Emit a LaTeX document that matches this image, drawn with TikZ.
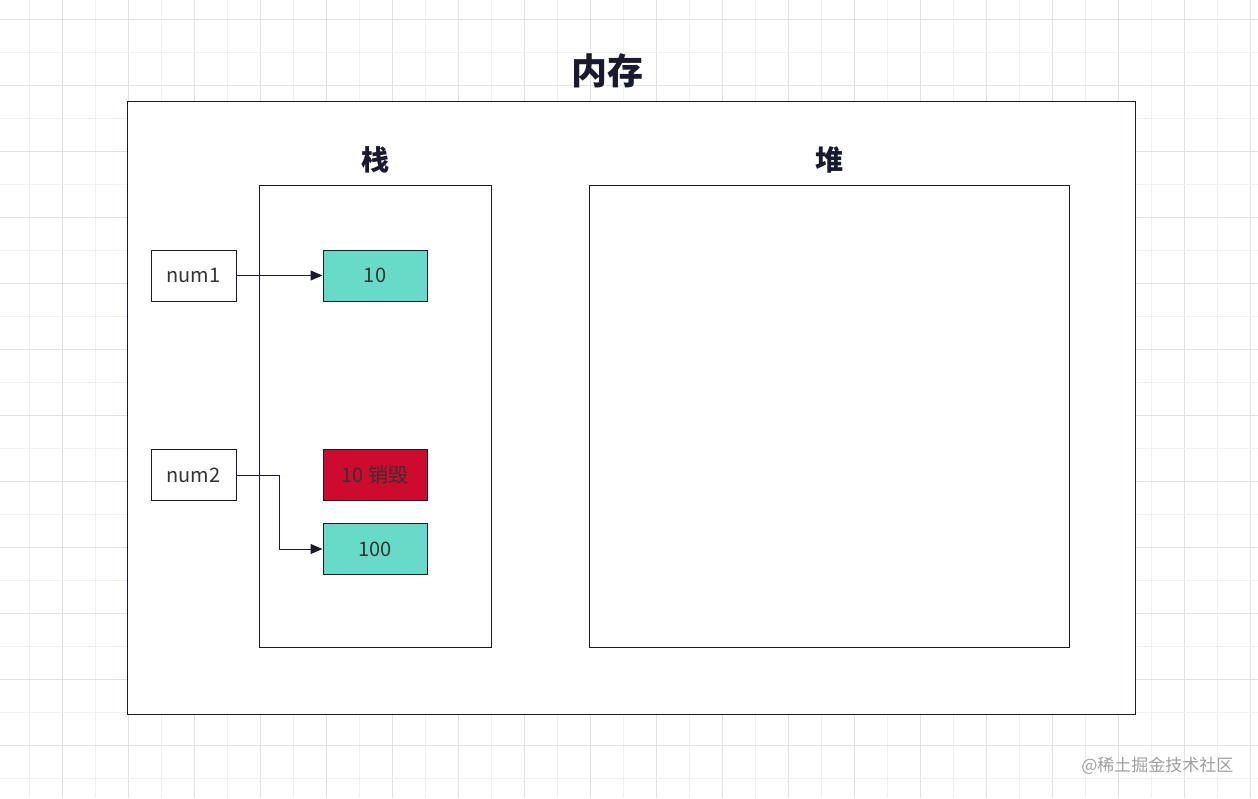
\documentclass[tikz,border=0pt]{standalone}
\usepackage{fontspec}
\setmainfont{Noto Sans CJK SC}
\usetikzlibrary{arrows.meta}

\definecolor{edge}{HTML}{1A1A2E}
\definecolor{cellgreen}{HTML}{67DAC8}
\definecolor{cellred}{HTML}{CE0A2F}
\definecolor{gridmajor}{HTML}{E2E2E5}
\definecolor{gridminor}{HTML}{F0F0F2}
\definecolor{inktext}{HTML}{333333}

\tikzset{
	area/.style={draw=edge, line width=1pt, fill=white},
	var/.style={draw=edge, line width=1pt, fill=white, inner sep=0pt,
		minimum width=85pt, minimum height=51pt, text=inktext,
		font=\fontsize{20}{20}\selectfont},
	cell/.style={var, minimum width=104pt, fill=cellgreen},
	ref/.style={draw=edge, line width=1pt, -{Triangle[length=12pt,width=10pt]}},
	head/.style={font=\fontsize{28}{28}\selectfont\bfseries, text=edge}
}

\begin{document}
\begin{tikzpicture}[x=1pt, y=-1pt]

	\useasboundingbox (0, 0) rectangle (1258, 798);
	\fill[white] (0, 0) rectangle (1258, 798);

	% grid
	\foreach \k in {0, 1,...,37} {
		\pgfmathsetmacro{\gx}{29+33*\k}
		\ifodd\k
			\draw[gridmajor, line width=0.9pt] (\gx, 0) -- (\gx, 798);
		\else
			\draw[gridminor, line width=0.8pt] (\gx, 0) -- (\gx, 798);
		\fi
	}
	\foreach \k in {0, 1,...,23} {
		\pgfmathsetmacro{\gy}{19+33*\k}
		\ifodd\k
			\draw[gridminor, line width=0.8pt] (0, \gy) -- (1258, \gy);
		\else
			\draw[gridmajor, line width=0.9pt] (0, \gy) -- (1258, \gy);
		\fi
	}

	% memory, stack, heap
	\draw[area] (127, 101) rectangle (1135, 714);
	\node[font=\fontsize{36}{36}\selectfont\bfseries, text=edge] (memory) at (607, 71) {内存};
	\draw[area] (259, 185) rectangle (491, 647);
	\node[head] (stack) at (375, 160) {栈};
	\draw[area] (589, 185) rectangle (1069, 647);
	\node[head] (heap) at (829, 160) {堆};

	% variables and values
	\node[var] (num1) at (193.5, 275.5) {num1};
	\node[var] (num2) at (193.5, 475) {num2};
	\node[cell] (v10) at (375, 275.5) {10};
	\node[cell, fill=cellred] (gone) at (375, 475) {10 销毁};
	\node[cell] (v100) at (375, 549) {100};

	\draw[ref] (num1) -- (v10);
	\draw[ref] (num2.east) -- ++(43, 0) |- (v100.west);

	\node[text=gray!75, font=\fontsize{17}{17}\selectfont, anchor=east] (mark) at (1237, 766) {@稀土掘金技术社区};
\end{tikzpicture}
\end{document}
